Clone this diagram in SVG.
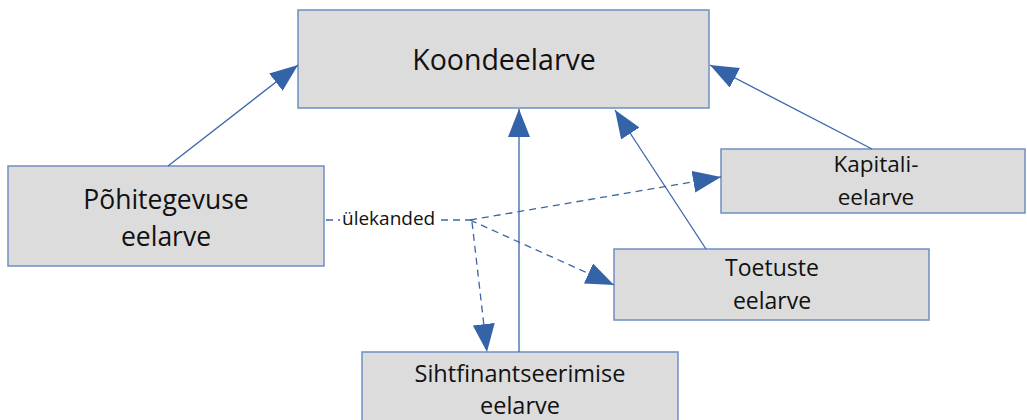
<svg xmlns="http://www.w3.org/2000/svg" width="1027" height="420" viewBox="0 0 1027 420">
<style>
.box{fill:#dcdcdc;stroke:#6f8fc4;stroke-width:1.5}
.t{font-family:"Open Sans","Noto Sans",sans-serif;fill:#111;text-anchor:middle}
.ln{stroke:#3a66ab;stroke-width:1.3;fill:none}
.dash{stroke:#3a66ab;stroke-width:1.3;fill:none;stroke-dasharray:7 5}
</style>
<defs>
<marker id="ah" markerUnits="userSpaceOnUse" markerWidth="30" markerHeight="24" refX="28" refY="11" orient="auto">
<path d="M0,0 L28,11 L0,22 z" fill="#3463a8"/>
</marker>
</defs>
<rect width="1027" height="420" fill="#fff"/>
<g id="koondeelarve"><rect class="box" x="298" y="10" width="411" height="98"/><text class="t" x="504" y="70" font-size="28.5">Koondeelarve</text></g>
<g id="pohitegevuse"><rect class="box" x="8" y="166" width="316" height="100"/><text class="t" x="166" y="209" font-size="26.5">Põhitegevuse</text><text class="t" x="166" y="246" font-size="26.5">eelarve</text></g>
<g id="kapitali"><rect class="box" x="721" y="149" width="304" height="64"/><text class="t" x="876" y="172" font-size="22.5">Kapitali-</text><text class="t" x="876" y="205" font-size="22.5">eelarve</text></g>
<g id="toetuste"><rect class="box" x="614" y="249" width="315" height="71"/><text class="t" x="772" y="276" font-size="23">Toetuste</text><text class="t" x="772" y="309" font-size="23">eelarve</text></g>
<g id="sihtfinantseerimise"><rect class="box" x="362" y="352" width="316" height="80"/><text class="t" x="520" y="382" font-size="23.5">Sihtfinantseerimise</text><text class="t" x="520" y="414" font-size="23.5">eelarve</text></g>
<g id="connectors">
<line class="ln" x1="168" y1="166" x2="298" y2="65" marker-end="url(#ah)"/>
<line class="ln" x1="519" y1="352" x2="519" y2="109" marker-end="url(#ah)"/>
<line class="ln" x1="706" y1="249" x2="615" y2="110" marker-end="url(#ah)"/>
<line class="ln" x1="872" y1="149" x2="710" y2="65" marker-end="url(#ah)"/>
<line class="dash" x1="326" y1="220" x2="340" y2="220"/>
<line class="dash" x1="441" y1="220" x2="470" y2="220"/>
<line class="dash" x1="470" y1="220" x2="721" y2="177" marker-end="url(#ah)"/>
<line class="dash" x1="470" y1="220" x2="614" y2="285" marker-end="url(#ah)"/>
<line class="dash" x1="472" y1="222" x2="487" y2="352" marker-end="url(#ah)"/>
<text x="342" y="225" font-family="Open Sans, Noto Sans, sans-serif" font-size="19" fill="#111">ülekanded</text>
</g>
</svg>
